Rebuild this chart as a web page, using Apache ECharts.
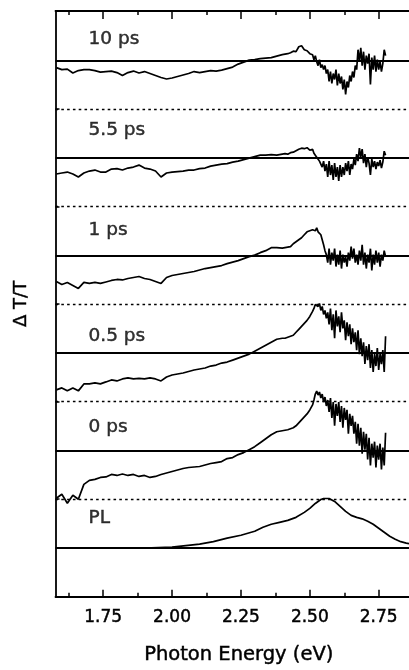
<!DOCTYPE html>
<html>
<head>
<meta charset="utf-8">
<script src="https://cdn.jsdelivr.net/npm/echarts@6/dist/echarts.min.js"></script>
<style>
  html, body { margin: 0; padding: 0; background: #fff; }
  #chart { width: 409px; height: 670px; }
</style>
</head>
<body>
<div id="chart"></div>
<script>
// Probe photon energies (eV) shared by the transient-transmission spectra
const energies = [
  1.58, 1.60, 1.62, 1.64, 1.66, 1.68, 1.70, 1.72, 1.74, 1.76, 1.78, 1.80, 1.82, 1.84,
  1.86, 1.88, 1.90, 1.92, 1.94, 1.96, 1.98, 2.00, 2.02, 2.04, 2.06, 2.08, 2.10, 2.12,
  2.14, 2.16, 2.18, 2.20, 2.22, 2.24, 2.26, 2.28, 2.30, 2.32, 2.34, 2.36, 2.38, 2.40,
  2.41, 2.42, 2.43, 2.44, 2.45, 2.46, 2.47, 2.48, 2.49, 2.50, 2.51,
  2.515, 2.52, 2.525, 2.53, 2.535, 2.54, 2.545, 2.55, 2.555, 2.56, 2.565, 2.57, 2.575,
  2.58, 2.585, 2.59, 2.595, 2.60, 2.605, 2.61, 2.615, 2.62, 2.625, 2.63, 2.635, 2.64,
  2.645, 2.65, 2.655, 2.66, 2.665, 2.67, 2.675, 2.68, 2.685, 2.69, 2.695, 2.70, 2.705,
  2.71, 2.715, 2.72, 2.725, 2.73, 2.735, 2.74, 2.745, 2.75, 2.755, 2.76, 2.765, 2.77, 2.775
];

// ΔT/T (arb. units) at each delay
const dT10ps = [
  -7, -9, -8.5, -12.5, -10, -9, -9, -10, -11.5, -11, -10.5, -12, -15, -12,
  -10.5, -12.5, -11, -13, -15, -17, -18.5, -17.5, -16, -14.5, -13, -11, -12, -11,
  -10, -10.5, -9.5, -8, -6.5, -3.5, -1.5, 0.5, 1, 2, 2.5, 3, 4.5, 6,
  6.5, 7, 8, 9.5, 9, 14, 15, 11, 10, 7, 6,
  1, 5, -1, -5, 1, -7, -4, -9, -5, -13, -9, -21, -11, -23, -13, -19, -9, -25, -13, -23,
  -16, -29, -19, -34, -21, -27, -15, -21, -11, -17, -5, -9, 11, -1, 13, -5, 9, -9, 5,
  -3, 7, -24, 3, -9, 5, -11, 1, -9, -1, -11, -3, 11, 5
];
const dT5p5ps = [
  -16, -15, -14, -16, -19, -15, -13, -12, -14, -14, -11, -10.5, -12, -10,
  -9, -7, -10, -11, -13, -19, -15, -14, -13.5, -13, -12, -12, -10.5, -10,
  -8, -7, -6, -5.5, -4, -3, -1.5, 0, 1.5, 3, 3, 3.5, 3, 4,
  4.5, 4, 5.5, 6, 7.5, 9, 10, 9.5, 10.5, 8, 9,
  5, 6, 1, 3, -3, -1, -9, -3, -13, -6, -19, -3, -17, -7, -22, -5, -19, -9, -23, -7,
  -19, -9, -17, -5, -13, -3, -17, -6, -11, -1, -7, 4, -3, 10, 1, 9, -5, 4, -9,
  1, -5, -17, -1, -9, -3, -11, -4, -8, -2, -10, -4, 7, 3
];
const dT1ps = [
  -26, -29, -27, -30, -33, -27, -28, -27, -28, -26.5, -25, -24, -24.5, -23,
  -22, -21, -23, -24, -26, -28, -22, -20, -19, -18, -17, -16, -14.5, -13,
  -12, -11, -10, -8, -6.5, -5, -3, -1, 0.5, 3, 5, 8, 8, 7.5,
  8, 8.5, 9, 12, 14, 16, 18, 21, 24, 25, 26,
  28, 25, 28, 24, 26, 21, 19, 11, 5, 1, -7, 7, -9, 3, -5, 7, -11, 1, -9, 5,
  -13, 1, -7, -1, -11, 3, -5, 9, -3, 7, -7, 1, -9, 5, -5, 11, -9, 3, -13,
  1, -7, 7, -15, 1, -9, 5, -7, 3, -11, 1, -5, 5, -1
];
const dT0p5ps = [
  -37, -35, -38, -35, -38, -31, -31, -30, -31, -29, -27, -28, -26, -25,
  -26, -25.5, -26, -25, -26, -28, -24, -22, -21, -20, -18.5, -17, -16, -15,
  -13, -12, -10, -9, -7, -5, -3, -1, 2, 5, 8, 11, 14, 15,
  15, 16, 17, 18, 21, 24, 27, 30, 33, 37, 42,
  45, 49, 51, 47, 50, 43, 47, 39, 43, 35, 41, 29, 45, 23, 39, 15, 43, 27, 37, 21,
  41, 25, 33, 13, 31, 17, 29, 9, 25, 11, 21, 3, 23, -1, 15, -3, 11, -11, 7,
  -7, 9, -15, 3, -19, -1, -13, 5, -17, -1, -11, 3, -19, 17
];
const dT0ps = [
  -48, -44, -53, -45, -49, -34, -30, -29, -27, -26.5, -24, -25, -23.5, -25,
  -24, -26, -25, -27, -26, -24, -22.5, -21, -19.5, -18, -17, -16.5, -16, -14.5,
  -13, -12, -11, -8, -7, -4, -2, 1, 4, 8, 12, 16, 19, 20,
  20.5, 21, 22, 23, 25, 28, 31, 34, 37, 41, 46,
  51, 57, 60, 56, 59, 53, 57, 49, 54, 45, 51, 39, 53, 33, 49, 25, 47, 35, 49, 29,
  45, 23, 43, 31, 41, 17, 37, 25, 35, 17, 29, 7, 27, 5, 23, -3, 19, 1, 17,
  -9, 13, -15, 7, -7, 9, -17, 5, -9, 7, -19, 3, -15, 18
];

// Photoluminescence spectrum
const plEnergies = [
  1.90, 1.95, 2.00, 2.05, 2.10, 2.15, 2.20, 2.25, 2.30, 2.33, 2.36, 2.39, 2.42, 2.45,
  2.48, 2.50, 2.52, 2.54, 2.55, 2.57, 2.59, 2.61, 2.63, 2.65, 2.67, 2.69, 2.71, 2.73,
  2.75, 2.77, 2.79, 2.81, 2.83, 2.85, 2.86
];
const plIntensity = [
  0, 0.5, 1, 2.5, 4, 6.5, 10, 13, 17, 21, 24, 26, 28, 31,
  36, 40, 45, 49, 50, 50, 47, 42, 37, 33, 31, 29.5, 27, 24,
  20, 16, 12, 9, 6.5, 5, 4.5
];

const traceNames = ['PL', '0 ps', '0.5 ps', '1 ps', '5.5 ps', '10 ps'];
const majorTicks = [1.75, 2.00, 2.25, 2.50, 2.75];
const minorTicks = [1.625, 1.875, 2.125, 2.375, 2.625];

// ---- layout: traces are stacked bottom-up with a constant vertical offset ----
const X_MIN = 1.577, X_MAX = 2.86, Y_MAX = 590;
const FIRST_BASE = 49, STEP = 98.2, GUIDE_GAP = 49.3;
const LABEL_X = 1.695;
const labelLift = [30, 24, 17.5, 26, 28, 21.5];
const INK = '#000';
const FONT = 'DejaVu Sans';
// a hairline outline in the text colour darkens the glyph strokes a little
const heavyText = { textBorderColor: INK, textBorderWidth: 0.45 };

const traces = [
  { x: plEnergies, y: plIntensity },
  { x: energies, y: dT0ps },
  { x: energies, y: dT0p5ps },
  { x: energies, y: dT1ps },
  { x: energies, y: dT5p5ps },
  { x: energies, y: dT10ps }
];

const series = [];
const guideLevels = [];
const labelPoints = [];
traces.forEach((t, k) => {
  const base = FIRST_BASE + k * STEP;
  const lines = [{ yAxis: base, lineStyle: { type: 'solid', width: 1.9, color: INK } }];
  if (k < traces.length - 1) {
    const g = base + GUIDE_GAP;
    guideLevels.push(g);
    lines.push({ yAxis: g, lineStyle: { type: [2.6, 3.2], width: 1.4, color: INK } });
  }
  labelPoints.push([LABEL_X, base + labelLift[k], traceNames[k]]);
  series.push({
    name: traceNames[k],
    type: 'line',
    xAxisIndex: 0,
    yAxisIndex: 0,
    showSymbol: false,
    symbol: 'none',
    smooth: false,
    lineStyle: { color: INK, width: 1.7 },
    data: t.x.map((e, i) => [e, base + t.y[i]]),
    markLine: {
      silent: true,
      symbol: ['none', 'none'],
      label: { show: false },
      emphasis: { disabled: true },
      data: lines
    },
    z: 3
  });
});

series.push({
  name: 'labels',
  type: 'scatter',
  symbolSize: 1,
  itemStyle: { color: 'rgba(0,0,0,0)' },
  data: labelPoints,
  label: Object.assign({
    show: true,
    position: 'right',
    distance: 0,
    formatter: p => p.value[2],
    fontFamily: FONT,
    fontSize: 18.5,
    color: INK
  }, heavyText),
  z: 4
});

const axisLine = { show: true, onZero: false, lineStyle: { color: INK, width: 1.8 } };
const tickStyle = { color: INK, width: 1.5 };

function xAxisOf(position, ticks, len, withLine, withLabels) {
  const ax = {
    type: 'value',
    position: position,
    min: X_MIN,
    max: X_MAX,
    axisLine: withLine ? axisLine : { show: false, onZero: false },
    axisTick: { show: true, inside: true, length: len, customValues: ticks, lineStyle: tickStyle },
    axisLabel: { show: false },
    splitLine: { show: false }
  };
  if (withLabels) {
    ax.axisLabel = Object.assign({
      show: true,
      customValues: ticks,
      formatter: v => v.toFixed(2),
      margin: 12,
      fontFamily: FONT,
      fontSize: 17,
      color: INK
    }, heavyText);
    ax.name = 'Photon Energy (eV)';
    ax.nameLocation = 'middle';
    ax.nameGap = 48;
    ax.nameTextStyle = Object.assign(
      { fontFamily: FONT, fontSize: 19.5, color: INK, padding: [0, 0, 0, 13] }, heavyText);
  }
  return ax;
}

const chart = echarts.init(document.getElementById('chart'), null, { renderer: 'canvas' });
chart.setOption({
  animation: false,
  backgroundColor: '#fff',
  grid: { left: 55.5, right: 0, top: 11, bottom: 69, containLabel: false },
  xAxis: [
    xAxisOf('bottom', majorTicks, 7, true, true),
    xAxisOf('bottom', minorTicks, 4, false, false),
    xAxisOf('top', majorTicks, 8, true, false),
    xAxisOf('top', minorTicks, 4, false, false)
  ],
  yAxis: {
    type: 'value',
    min: 0,
    max: Y_MAX,
    axisLine: axisLine,
    axisTick: { show: true, inside: true, length: 4, customValues: guideLevels, lineStyle: tickStyle },
    axisLabel: { show: false },
    splitLine: { show: false },
    name: 'Δ T/T',
    nameLocation: 'middle',
    nameGap: 25,
    nameTextStyle: Object.assign({ fontFamily: FONT, fontSize: 18, color: INK }, heavyText)
  },
  series: series
});
</script>
</body>
</html>
